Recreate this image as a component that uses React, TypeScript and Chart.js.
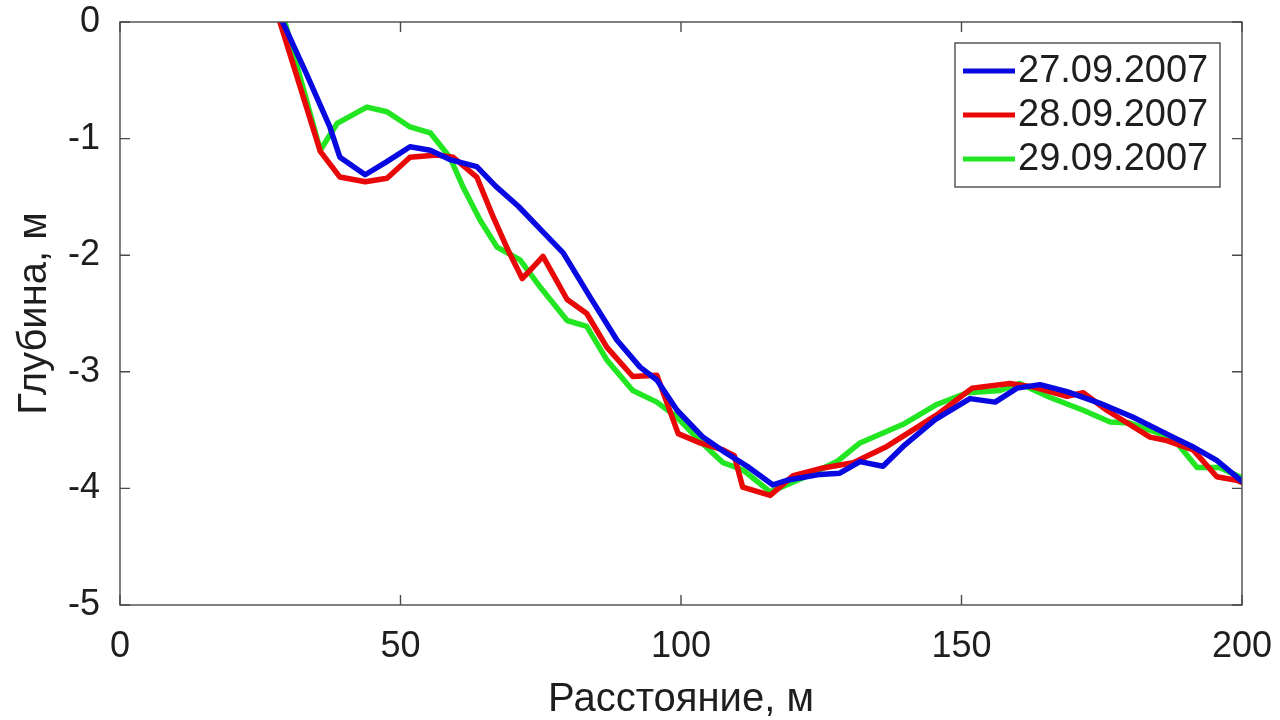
import React, { useEffect, useRef } from "react";
import { Chart, registerables } from "chart.js";

Chart.register(...registerables);

const seriesLabels = ["27.09.2007", "28.09.2007", "29.09.2007"];
const seriesColors = ["#0808e0", "#e80808", "#22e622"];

const blueX = [29, 33.2, 37.4, 39.2, 43.7, 47.5, 51.7, 55.3, 58.8, 63.6, 67, 71, 75, 79, 83.8, 88.6, 92.7, 95.7, 99.3, 103.9, 107.5, 111.8, 116.4, 118.9, 124.8, 128.3, 131.9, 136, 139.6, 145.3, 151.5, 156, 159.9, 164, 168.8, 174.7, 180.6, 187.7, 191.5, 195.5, 200];
const blueY = [0, -0.44, -0.9, -1.16, -1.31, -1.2, -1.07, -1.1, -1.18, -1.24, -1.41, -1.58, -1.78, -1.98, -2.36, -2.73, -2.96, -3.07, -3.33, -3.56, -3.68, -3.81, -3.97, -3.93, -3.88, -3.87, -3.77, -3.81, -3.64, -3.41, -3.23, -3.26, -3.14, -3.11, -3.17, -3.27, -3.39, -3.56, -3.65, -3.76, -3.94];

const redX = [28.5, 35.7, 39.2, 43.7, 47.6, 51.7, 56.5, 59.4, 63.6, 66.5, 69.2, 71.7, 73.1, 75.4, 79.7, 83.2, 86.8, 91.4, 95.7, 99.5, 103.4, 107.5, 109.5, 111, 115.9, 120, 124.8, 130.7, 136.7, 145.6, 151.9, 158.6, 162.7, 168.8, 171.7, 175.9, 183.6, 186.6, 191.3, 195.5, 199, 200];
const redY = [0, -1.11, -1.33, -1.37, -1.34, -1.16, -1.14, -1.16, -1.33, -1.67, -1.96, -2.2, -2.13, -2.01, -2.38, -2.5, -2.79, -3.04, -3.03, -3.53, -3.61, -3.67, -3.72, -3.99, -4.06, -3.89, -3.83, -3.78, -3.64, -3.37, -3.14, -3.1, -3.13, -3.21, -3.18, -3.33, -3.56, -3.59, -3.67, -3.9, -3.93, -3.95];

const greenX = [29.4, 35.7, 38.7, 44, 47.6, 51.7, 55.3, 58.8, 61.1, 64.2, 67.2, 71.3, 75, 79.7, 83.2, 86.8, 91.4, 95.7, 99.3, 103.5, 107.5, 111, 115.9, 121.7, 127.8, 131.9, 139.6, 145.6, 151, 156.9, 160.4, 165.8, 171.7, 176.5, 180, 187.7, 192, 196, 200];
const greenY = [0, -1.1, -0.87, -0.73, -0.77, -0.9, -0.95, -1.16, -1.41, -1.7, -1.93, -2.04, -2.28, -2.56, -2.61, -2.9, -3.16, -3.26, -3.39, -3.6, -3.78, -3.84, -4.03, -3.91, -3.77, -3.61, -3.45, -3.28, -3.18, -3.16, -3.1, -3.22, -3.33, -3.43, -3.44, -3.57, -3.82, -3.82, -3.91];

const xTitle = "Расстояние, м";
const yTitle = "Глубина, м";
const xMin = 0, xMax = 200, xStep = 50;
const yMin = -5, yMax = 0, yStep = 1;

const FONT = "'Liberation Sans', Arial, sans-serif";
const AXIS_COLOR = "#4a4a4a";
const TEXT_COLOR = "#1e1e1e";

const zeroPad = (scale: any) => {
  scale.paddingTop = 0;
  scale.paddingBottom = 0;
  scale.paddingLeft = 0;
  scale.paddingRight = 0;
};

const boxPlugin = {
  id: "matlabBox",
  afterDatasetsDraw(chart: any) {
    const { ctx, chartArea, scales } = chart;
    const { left, right, top, bottom } = chartArea;
    ctx.save();
    ctx.strokeStyle = AXIS_COLOR;
    ctx.lineWidth = 1.4;
    ctx.strokeRect(left, top, right - left, bottom - top);
    const tl = 10;
    ctx.beginPath();
    scales.x.ticks.forEach((t: any) => {
      const px = scales.x.getPixelForValue(t.value);
      ctx.moveTo(px, bottom);
      ctx.lineTo(px, bottom - tl);
      ctx.moveTo(px, top);
      ctx.lineTo(px, top + tl);
    });
    scales.y.ticks.forEach((t: any) => {
      const py = scales.y.getPixelForValue(t.value);
      ctx.moveTo(left, py);
      ctx.lineTo(left + tl, py);
      ctx.moveTo(right, py);
      ctx.lineTo(right - tl, py);
    });
    ctx.stroke();

    // legend
    const bw = 265, bh = 144;
    const bx = right - 22 - bw;
    const by = top + 21;
    ctx.fillStyle = "#ffffff";
    ctx.fillRect(bx, by, bw, bh);
    ctx.lineWidth = 1.4;
    ctx.strokeStyle = AXIS_COLOR;
    ctx.strokeRect(bx, by, bw, bh);
    ctx.font = `38px ${FONT}`;
    ctx.textBaseline = "middle";
    ctx.textAlign = "left";
    chart.data.datasets.forEach((ds: any, i: number) => {
      const cy = by + 28 + i * 44;
      ctx.strokeStyle = ds.borderColor;
      ctx.lineWidth = 5;
      ctx.beginPath();
      ctx.moveTo(bx + 8, cy);
      ctx.lineTo(bx + 60, cy);
      ctx.stroke();
      ctx.fillStyle = TEXT_COLOR;
      ctx.fillText(ds.label, bx + 63, cy + 1);
    });
    ctx.restore();
  },
};

export default function App() {
  const ref = useRef<HTMLCanvasElement | null>(null);
  useEffect(() => {
    if (!ref.current) return;
    const xs = [blueX, redX, greenX];
    const ys = [blueY, redY, greenY];
    const chart = new Chart(ref.current, {
      type: "line",
      data: {
        datasets: seriesLabels.map((label, i) => ({
          label,
          data: xs[i].map((x, j) => ({ x, y: ys[i][j] })),
          borderColor: seriesColors[i],
          backgroundColor: seriesColors[i],
          borderWidth: 5.5,
          pointRadius: 0,
          tension: 0,
          borderJoinStyle: "round" as const,
          borderCapStyle: "round" as const,
          fill: false,
        })),
      },
      options: {
        animation: false,
        responsive: false,
        maintainAspectRatio: false,
        layout: { padding: { top: 22, right: 38, left: 0, bottom: 0 } },
        plugins: { legend: { display: false }, tooltip: { enabled: false } },
        scales: {
          x: {
            type: "linear",
            min: xMin,
            max: xMax,
            grid: { display: false, drawTicks: false },
            border: { display: false },
            ticks: {
              stepSize: xStep,
              padding: 20,
              color: TEXT_COLOR,
              font: { family: FONT, size: 36 },
              maxRotation: 0,
            },
            title: {
              display: true,
              text: xTitle,
              color: TEXT_COLOR,
              font: { family: FONT, size: 40, lineHeight: 1 },
              padding: { top: 0, bottom: 0 },
            },
            afterFit(scale: any) {
              scale.height = 115;
              zeroPad(scale);
            },
          },
          y: {
            type: "linear",
            min: yMin,
            max: yMax,
            grid: { display: false, drawTicks: false },
            border: { display: false },
            ticks: {
              stepSize: yStep,
              padding: 20,
              color: TEXT_COLOR,
              font: { family: FONT, size: 36 },
            },
            title: {
              display: true,
              text: yTitle,
              color: TEXT_COLOR,
              font: { family: FONT, size: 40, lineHeight: 1 },
              padding: { top: 15, bottom: 0 },
            },
            afterFit(scale: any) {
              scale.width = 120;
              zeroPad(scale);
            },
          },
        },
      },
      plugins: [boxPlugin],
    });
    return () => chart.destroy();
  }, []);
  return (
    <div style={{ position: "fixed", left: 0, top: 0, width: 1280, height: 720, background: "#fff" }}>
      <canvas ref={ref} width={1280} height={720} style={{ width: 1280, height: 720, display: "block" }} />
    </div>
  );
}
